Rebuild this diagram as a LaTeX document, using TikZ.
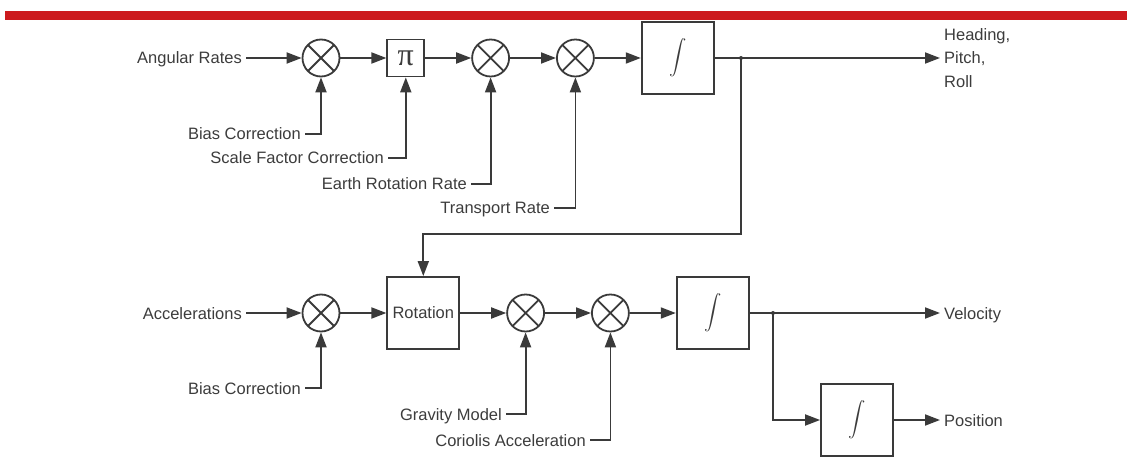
\documentclass[tikz,border=0pt]{standalone}
\usepackage{exscale}
\usepackage{fontspec}
\setmainfont{Liberation Sans}
\newfontfamily\pifont{Liberation Serif}
\usetikzlibrary{arrows.meta,positioning,calc}
\definecolor{lineGrey}{HTML}{3A3A3A}
\definecolor{txtGrey}{HTML}{3C3C3C}
\definecolor{barRed}{HTML}{CC1A1E}
\newcommand{\lblfont}{\fontsize{16.5}{23.5}\selectfont}
\tikzset{
  lbl/.style={text=txtGrey,font=\lblfont,inner sep=4pt},
  inlbl/.style={lbl,text height=12pt,text depth=0pt},
  mult/.style={circle,draw=lineGrey,line width=1.8pt,minimum size=37pt,inner sep=0pt,
    path picture={\draw[lineGrey,line width=1.8pt]
      (path picture bounding box.south west)--(path picture bounding box.north east)
      (path picture bounding box.north west)--(path picture bounding box.south east);}},
  blk/.style={draw=lineGrey,line width=1.8pt,minimum size=37pt,inner sep=2pt,
    text=txtGrey,font=\lblfont},
  intg/.style={blk,minimum size=72pt},
  flow/.style={-{Triangle[length=15pt,width=11pt]},line width=1.8pt,draw=lineGrey},
  tap/.style={fill=lineGrey},
}
\newcommand{\intsym}{{\fontsize{17}{20}\selectfont$\displaystyle\int$}}

\begin{document}
\begin{tikzpicture}[x=1pt,y=-1pt]
  \useasboundingbox (0,0) rectangle (1127,457);
  \fill[barRed] (5,11) rectangle (1127,20);
  % attitude
  \node[mult] (m1) at (321,58) {};
  \node[blk,right=46pt of m1] (pi) {\pifont\fontsize{32}{32}\selectfont π};
  \node[mult,right=46pt of pi] (m2) {};
  \node[mult,right=46pt of m2] (m3) {};
  \node[intg,right=46pt of m3] (i1) {\intsym};
  \node[inlbl,anchor=east] (ar) at (246,58) {Angular Rates};
  \node[inlbl,anchor=east] (bc1) at (305,134) {Bias Correction};
  \node[inlbl,anchor=east] (sf) at (388,158) {Scale Factor Correction};
  \node[inlbl,anchor=east] (er) at (471,184) {Earth Rotation Rate};
  \node[inlbl,anchor=east] (tr) at (554,208) {Transport Rate};
  \node[lbl,anchor=west,align=left] (hpr) at (940,58) {Heading,\\Pitch,\\Roll};
  \coordinate (j1) at (741,58);
  \coordinate (fb) at (741,234);
  \draw[flow] (ar)--(m1); \draw[flow] (m1)--(pi); \draw[flow] (pi)--(m2);
  \draw[flow] (m2)--(m3); \draw[flow] (m3)--(i1); \draw[flow] (i1)--(hpr);
  \draw[flow] (bc1)-|(m1); \draw[flow] (sf)-|(pi);
  \draw[flow] (er)-|(m2); \draw[flow] (tr)-|(m3);
  \fill[tap] (j1) circle (2pt);
  % navigation
  \node[mult] (m4) at (321,313) {};
  \node[intg,right=46pt of m4] (rot) {Rotation};
  \node[mult,right=46pt of rot] (m5) {};
  \node[mult,right=46pt of m5] (m6) {};
  \node[intg,right=46pt of m6] (i2) {\intsym};
  \node[intg] (i3) at (857,420) {\intsym};
  \node[inlbl,anchor=east] (acc) at (246,313) {Accelerations};
  \node[inlbl,anchor=east] (bc2) at (305,388) {Bias Correction};
  \node[inlbl,anchor=east] (gm) at (506,414) {Gravity Model};
  \node[inlbl,anchor=east] (ca) at (590,440) {Coriolis Acceleration};
  \node[inlbl,anchor=west] (vel) at (940,313) {Velocity};
  \node[inlbl,anchor=west] (pos) at (940,420) {Position};
  \coordinate (j2) at (773,313);
  \draw[flow] (j1)--(fb)-|(rot);
  \draw[flow] (acc)--(m4); \draw[flow] (m4)--(rot); \draw[flow] (rot)--(m5);
  \draw[flow] (m5)--(m6); \draw[flow] (m6)--(i2); \draw[flow] (i2)--(vel);
  \draw[flow] (bc2)-|(m4); \draw[flow] (gm)-|(m5); \draw[flow] (ca)-|(m6);
  \draw[flow] (j2)|-(i3); \draw[flow] (i3)--(pos);
  \fill[tap] (j2) circle (2pt);
\end{tikzpicture}
\end{document}
